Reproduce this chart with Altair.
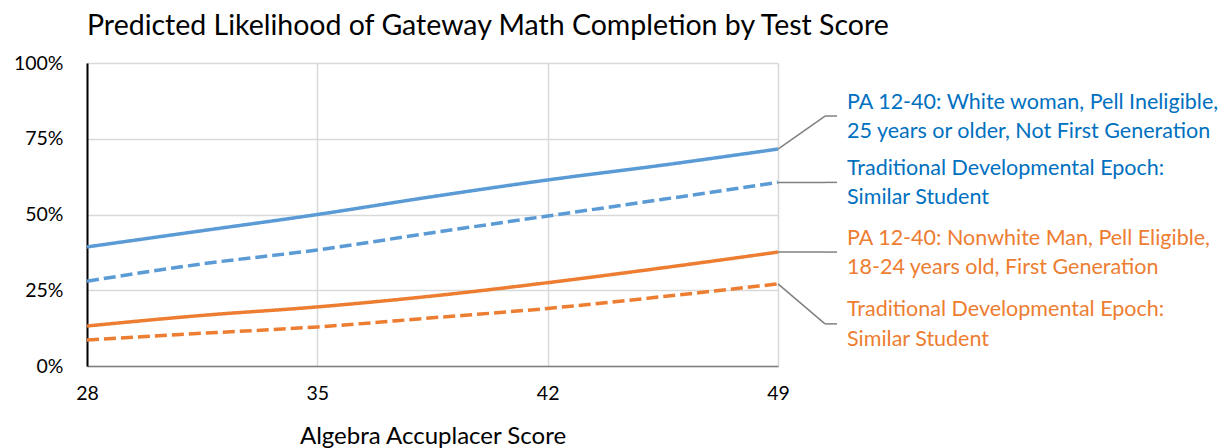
import altair as alt
import pandas as pd

# ---- data ----
scores = [28, 31.5, 35, 38.5, 42, 45.5, 49]
pa_white = [0.393, 0.4465, 0.500, 0.559, 0.614, 0.663, 0.716]
trad_white = [0.280, 0.337, 0.383, 0.440, 0.495, 0.550, 0.606]
pa_nonwhite = [0.132, 0.167, 0.195, 0.231, 0.275, 0.324, 0.376]
trad_nonwhite = [0.086, 0.108, 0.129, 0.159, 0.190, 0.229, 0.271]

series_keys = ["pa_white", "trad_white", "pa_nonwhite", "trad_nonwhite"]
series_values = [pa_white, trad_white, pa_nonwhite, trad_nonwhite]
series_labels = [
    "PA 12-40: White woman, Pell Ineligible,\n25 years or older, Not First Generation",
    "Traditional Developmental Epoch:\nSimilar Student",
    "PA 12-40: Nonwhite Man, Pell Eligible,\n18-24 years old, First Generation",
    "Traditional Developmental Epoch:\nSimilar Student",
]
line_colors = ["#5B9BD5", "#5B9BD5", "#ED7D31", "#ED7D31"]
text_colors = ["#0070C0", "#0070C0", "#ED7D31", "#ED7D31"]
dashes = [[1, 0], [12, 5], [1, 0], [12, 5]]
# label anchor levels (annotation placement, in axis units)
label_anchor = [0.825, None, None, 0.139]

FONT = "Lato"

rows = []
for key, vals in zip(series_keys, series_values):
    for s, v in zip(scores, vals):
        rows.append({"series": key, "score": s, "value": v})
df = pd.DataFrame(rows)

lab_rows = []
for i, key in enumerate(series_keys):
    end = series_values[i][-1]
    anchor = label_anchor[i] if label_anchor[i] is not None else end
    lab_rows.append({
        "series": key,
        "score": scores[-1],
        "end": end,
        "anchor": anchor,
        "label": series_labels[i],
        "tcolor": text_colors[i],
    })
lab = pd.DataFrame(lab_rows)

x_enc = alt.X(
    "score:Q",
    scale=alt.Scale(domain=[28, 49], nice=False, zero=False),
    axis=alt.Axis(
        values=[28, 35, 42, 49],
        title="Algebra Accuplacer Score",
        labelFontSize=19.5,
        labelPadding=18,
        labelFlush=False,
        titleFontSize=24,
        titlePadding=22,
        titleFontWeight="normal",
        ticks=False,
        domainColor="#7f7f7f",
        domainWidth=1.5,
        gridColor="#d9d9d9",
        gridWidth=1.5,
        labelColor="black",
        titleColor="black",
        labelFont=FONT,
        titleFont=FONT,
    ),
)
y_enc = alt.Y(
    "value:Q",
    scale=alt.Scale(domain=[0, 1], nice=False),
    axis=alt.Axis(
        values=[0, 0.25, 0.5, 0.75, 1.0],
        format=".0%",
        title=None,
        labelFontSize=19.5,
        labelPadding=24,
        ticks=False,
        domainColor="black",
        domainWidth=2,
        gridColor="#d9d9d9",
        gridWidth=1.5,
        labelColor="black",
        labelFont=FONT,
    ),
)

lines = alt.Chart(df).mark_line(strokeWidth=3.5, interpolate="monotone").encode(
    x=x_enc,
    y=y_enc,
    color=alt.Color("series:N", scale=alt.Scale(domain=series_keys, range=line_colors), legend=None),
    strokeDash=alt.StrokeDash("series:N", scale=alt.Scale(domain=series_keys, range=dashes), legend=None),
)

leader1 = alt.Chart(lab).mark_rule(color="#808080", strokeWidth=1.5).encode(
    x="score:Q",
    y="end:Q",
    x2=alt.value(738),
    y2="anchor:Q",
)
leader2 = alt.Chart(lab).mark_rule(color="#808080", strokeWidth=1.5).encode(
    x=alt.value(738),
    x2=alt.value(750),
    y="anchor:Q",
)
labels = alt.Chart(lab).mark_text(
    align="left", baseline="middle", fontSize=21.5, font=FONT, lineBreak="\n",
    lineHeight=29.5, dy=-13.5
).encode(
    x=alt.value(760),
    y="anchor:Q",
    text="label:N",
    color=alt.Color("tcolor:N", scale=None),
)

chart = alt.layer(lines, leader1, leader2, labels).properties(
    width=691,
    height=303,
    title=alt.TitleParams(
        "Predicted Likelihood of Gateway Math Completion by Test Score",
        anchor="start",
        frame="group",
        fontSize=28.5,
        font=FONT,
        fontWeight="normal",
        color="black",
        offset=13,
    ),
    padding={"left": 79, "top": 55, "right": 440, "bottom": 82},
    autosize=alt.AutoSizeParams(type="none"),
).configure_view(stroke=None)

chart.save("out.html", embed_options={"renderer": "svg", "actions": False})
